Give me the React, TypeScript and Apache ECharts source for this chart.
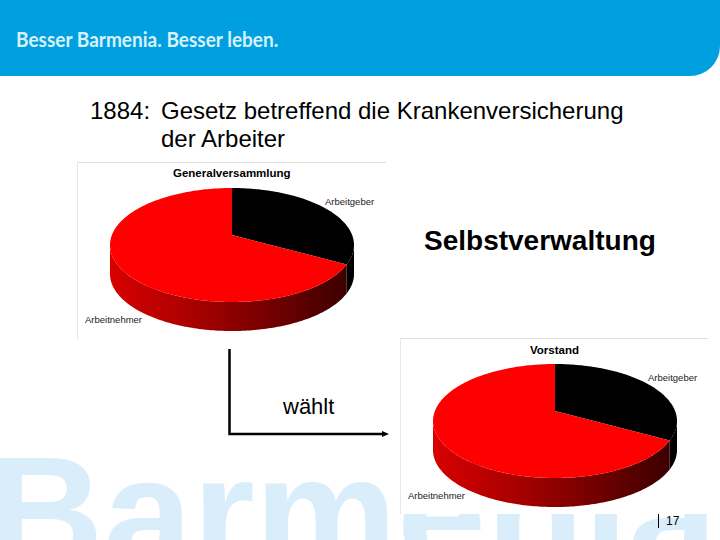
import React, { useEffect, useRef } from "react";
import * as echarts from "echarts";

const sliceNames = ["Arbeitgeber", "Arbeitnehmer"];
const generalversammlungValues = [33, 67];
const vorstandValues = [33, 67];
const sliceColors = ["#000000", "#ff0000"];
const headingYear = "1884:";
const headingLines = ["Gesetz betreffend die Krankenversicherung", "der Arbeiter"];

const F = "'Liberation Sans', Arial, sans-serif";

type Pie = { cx: number; cy: number; ay: number; rx: number; ry: number; depth: number };
const pieA: Pie = { cx: 232, cy: 245, ay: 235, rx: 122, ry: 57, depth: 29 };
const pieB: Pie = { cx: 555, cy: 421, ay: 411, rx: 122, ry: 57, depth: 29 };

// rim parameter (radians clockwise from the top) hit by a ray leaving the off-centre apex
function rimAngle(p: Pie, share: number) {
  const th = share * 2 * Math.PI;
  const dx = Math.sin(th), dy = -Math.cos(th);
  const oy = (p.ay - p.cy) / p.ry;
  const b = oy * dy;
  const t = -b + Math.sqrt(b * b - (oy * oy - 1));
  const px = t * dx, py = oy + t * dy;
  let a = Math.atan2(px, -py);
  if (a < 0) a += 2 * Math.PI;
  return a;
}
const rimPt = (p: Pie, a: number, drop = 0) => [
  p.cx + p.rx * Math.sin(a),
  p.cy - p.ry * Math.cos(a) + drop,
];
function arc(p: Pie, a0: number, a1: number, drop = 0) {
  const n = Math.max(2, Math.ceil(Math.abs(a1 - a0) / 0.02));
  const out: number[][] = [];
  for (let i = 0; i <= n; i++) out.push(rimPt(p, a0 + ((a1 - a0) * i) / n, drop));
  return out;
}

function pieSeries(p: Pie, values: number[]) {
  const total = values.reduce((s, v) => s + v, 0);
  return {
    type: "custom",
    coordinateSystem: "none",
    silent: true,
    z: 5,
    data: values.map((v, i) => ({ name: sliceNames[i], value: v })),
    renderItem: (params: any, api: any) => {
      const idx = params.dataIndex;
      let before = 0;
      for (let i = 0; i < idx; i++) before += values[i];
      const v = api.value(0);
      const a0 = before / total === 0 ? 0 : rimAngle(p, before / total);
      const a1 = (before + v) / total >= 1 ? 2 * Math.PI : rimAngle(p, (before + v) / total);
      const children: any[] = [];
      const s0 = Math.max(a0, Math.PI / 2);
      const s1 = Math.min(a1, (Math.PI * 3) / 2);
      if (s1 > s0) {
        const top = arc(p, s0, s1);
        const bot = arc(p, s1, s0, p.depth);
        children.push({
          type: "polygon",
          shape: { points: top.concat(bot) },
          style: {
            fill:
              idx === 0
                ? "#000000"
                : new echarts.graphic.LinearGradient(1, 0, 0, 0, [
                    { offset: 0, color: "#3c0000" },
                    { offset: 0.35, color: "#780000" },
                    { offset: 0.7, color: "#b00000" },
                    { offset: 1, color: "#d80000" },
                  ]),
          },
          z2: 1,
        });
      }
      children.push({
        type: "polygon",
        shape: { points: [[p.cx, p.ay], ...arc(p, a0, a1)] },
        style: { fill: sliceColors[idx] },
        z2: 2 + idx,
      });
      return { type: "group", children };
    },
  };
}

const txt = (text: string, x: number, y: number, size: number, extra: any = {}, el: any = {}) => ({
  type: "text",
  z: 10,
  x,
  y,
  ...el,
  style: {
    text,
    fontFamily: F,
    fontSize: size,
    fill: "#000",
    textVerticalAlign: "middle",
    verticalAlign: "middle",
    ...extra,
  },
});
const frame = (x: number, y: number, w: number, h: number) => [
  { type: "rect", z: 1, shape: { x, y, width: w, height: h }, style: { fill: "#fff" } },
  { type: "rect", z: 2, shape: { x, y, width: w, height: 1 }, style: { fill: "#dedede" } },
  { type: "rect", z: 2, shape: { x, y, width: 1, height: h }, style: { fill: "#e6e6e6" } },
];

export default function App() {
  const ref = useRef<HTMLDivElement>(null);
  useEffect(() => {
    document.body.style.margin = "0";
    const chart = echarts.init(ref.current!, undefined, { renderer: "svg" });
    chart.setOption({
      animation: false,
      backgroundColor: "#ffffff",
      series: [pieSeries(pieA, generalversammlungValues), pieSeries(pieB, vorstandValues)],
      graphic: [
        {
          type: "text",
          z: 0,
          x: -12,
          y: 454,
          style: {
            text: "Barmenia",
            fontFamily: F,
            fontWeight: "bold",
            fontSize: 160,
            fill: "#d9eefa",
            verticalAlign: "top",
            textVerticalAlign: "top",
            padding: [-22, 0, 0, 0],
          },
        },
        {
          type: "rect",
          z: 1,
          shape: { x: -40, y: 0, width: 760, height: 76, r: [0, 0, 30, 0] },
          style: { fill: "#009fe0" },
        },
        txt(
          "Besser Barmenia. Besser leben.",
          16,
          39,
          21,
          { fontFamily: "Lato, sans-serif", fontWeight: "bold", fill: "#d8f1fb" },
          { scaleX: 0.907 }
        ),
        txt(headingYear, 90, 110, 24),
        txt(headingLines[0], 161, 110, 24),
        txt(headingLines[1], 161, 138, 24),
        ...frame(77, 162, 309, 178),
        ...frame(400, 338, 308, 176),
        txt("Generalversammlung", 173, 173, 11.5, { fontWeight: "bold" }),
        txt(sliceNames[0], 325, 201, 9.5, { fill: "#222" }),
        txt(sliceNames[1], 85, 319, 9.5, { fill: "#222" }),
        txt("Selbstverwaltung", 424, 240, 28, { fontWeight: "bold" }),
        txt("Vorstand", 530, 350, 11.5, { fontWeight: "bold" }),
        txt(sliceNames[0], 648, 377, 9.5, { fill: "#222" }),
        txt(sliceNames[1], 408, 495, 9.5, { fill: "#222" }),
        txt("wählt", 283, 406, 22),
        {
          type: "polyline",
          z: 10,
          shape: { points: [[229.5, 349], [229.5, 434], [384, 434]] },
          style: { stroke: "#000", lineWidth: 2.5, fill: "none" },
        },
        {
          type: "polygon",
          z: 10,
          shape: { points: [[382, 431], [389, 434], [382, 437]] },
          style: { fill: "#000" },
        },
        {
          type: "line",
          z: 10,
          shape: { x1: 658.5, y1: 514, x2: 658.5, y2: 528 },
          style: { stroke: "#000", lineWidth: 1 },
        },
        txt("17", 666, 521, 12),
      ],
    });
    return () => chart.dispose();
  }, []);
  return <div ref={ref} style={{ position: "absolute", left: 0, top: 0, width: 720, height: 540 }} />;
}
